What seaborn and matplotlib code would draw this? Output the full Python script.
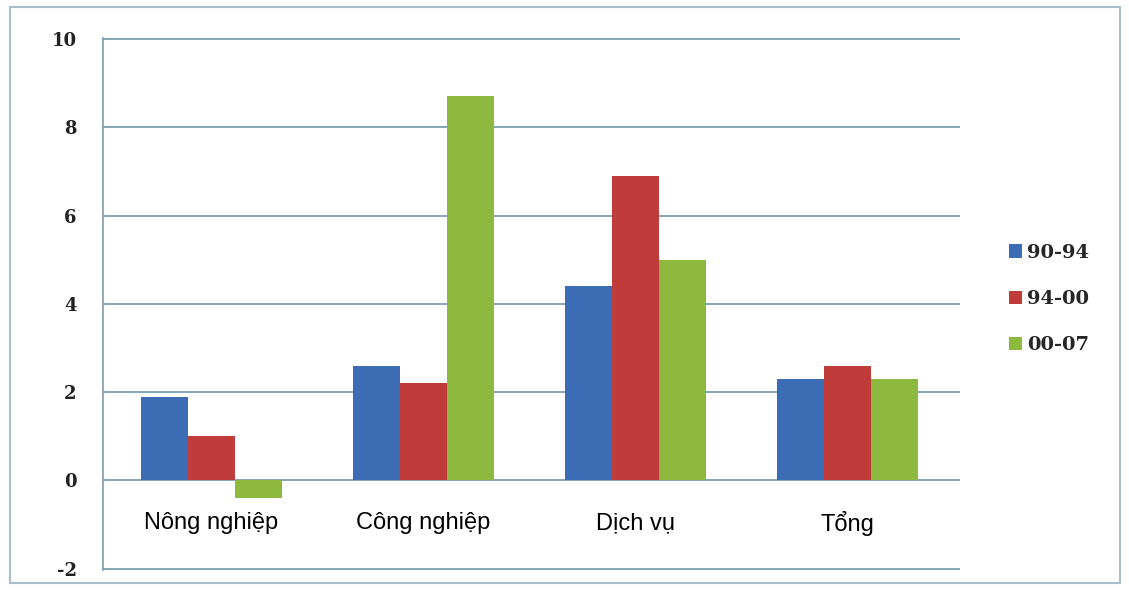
import pandas as pd
import matplotlib
matplotlib.use('Agg')
import matplotlib.pyplot as plt
from matplotlib.patches import Rectangle
import seaborn as sns

# Data
sectors = ['Nông nghiệp', 'Công nghiệp', 'Dịch vụ', 'Tổng']
periods = ['90-94', '94-00', '00-07']
growth_90_94 = [1.9, 2.6, 4.4, 2.3]
growth_94_00 = [1.0, 2.2, 6.9, 2.6]
growth_00_07 = [-0.4, 8.7, 5.0, 2.3]
y_ticks = [-2, 0, 2, 4, 6, 8, 10]

bar_colors = ['#3c6db4', '#c03c3a', '#8dba3e']
grid_color = '#7a9fb2'

rows = []
for period, values in zip(periods, [growth_90_94, growth_94_00, growth_00_07]):
    for sector, v in zip(sectors, values):
        rows.append({'sector': sector, 'period': period, 'value': v})
df = pd.DataFrame(rows)

sns.set_style('white')
fig = plt.figure(figsize=(11.29, 5.90), dpi=100)
ax = fig.add_axes([0.0912, 0.034, 0.759, 0.902])

sns.barplot(data=df, x='sector', y='value', hue='period', order=sectors,
            hue_order=periods, palette=bar_colors, width=0.665,
            saturation=1, linewidth=0, ax=ax, legend=True)

ax.set_ylim(-2.03, 10.03)
ax.set_xlim(-0.51, 3.53)
ax.set_yticks(y_ticks)
ax.set_yticklabels([str(t) for t in y_ticks], fontfamily='DejaVu Serif',
                   fontweight='bold', fontsize=13, color='#222222')
ax.set_xticks([])
ax.set_xlabel('')
ax.set_ylabel('')
ax.yaxis.grid(True, color=grid_color, lw=1.3)
ax.set_axisbelow(True)
ax.tick_params(axis='y', length=6, color=grid_color, width=1.2, pad=13)
for side in ['top', 'right', 'bottom']:
    ax.spines[side].set_visible(False)
ax.spines['left'].set_color(grid_color)
ax.spines['left'].set_linewidth(1.2)

# category names sit in white boxes between 0 and -2
for i, name in enumerate(sectors):
    ax.text(i, -0.97, name, ha='center', va='center', fontsize=17,
            fontfamily='Liberation Sans', color='black',
            bbox=dict(facecolor='white', edgecolor='none', pad=3))

# legend on the right
handles, labels = ax.get_legend_handles_labels()
ax.get_legend().remove()
fig.legend(handles, labels, loc='center left', bbox_to_anchor=(0.878, 0.493),
           frameon=False, handlelength=0.7, handleheight=0.7,
           handletextpad=0.25, labelspacing=1.45,
           prop={'family': 'DejaVu Serif', 'weight': 'bold', 'size': 14})

# outer frame of the chart
fig.add_artist(Rectangle((0.009, 0.012), 0.983, 0.976, transform=fig.transFigure,
                         fill=False, ec='#a8bfcb', lw=1.5))

fig.savefig('out.png', dpi=100)
